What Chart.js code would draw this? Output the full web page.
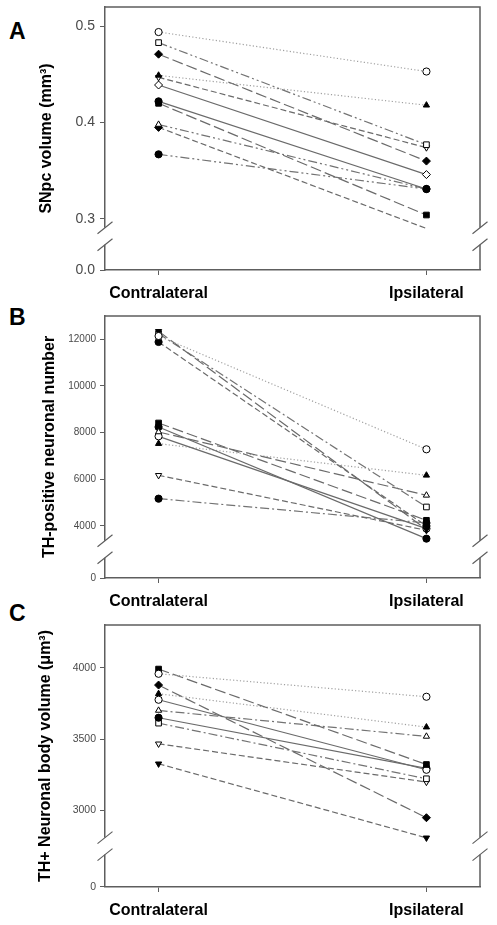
<!DOCTYPE html>
<html><head><meta charset="utf-8">
<script src="https://cdn.jsdelivr.net/npm/chart.js@4.4.0/dist/chart.umd.min.js"></script>
<style>
html,body{margin:0;padding:0;background:#fff;width:497px;height:925px;overflow:hidden;position:relative;}
canvas{position:absolute;left:0;display:block;}
.letter{position:absolute;left:9px;font:bold 23px "Liberation Sans",Arial,sans-serif;line-height:23px;color:#000;}
</style></head><body>
<div class="letter" style="top:20px">A</div>
<div class="letter" style="top:306px">B</div>
<div class="letter" style="top:602px">C</div>
<canvas id="cA" width="497" height="310" style="top:0px"></canvas>
<canvas id="cB" width="497" height="310" style="top:300px"></canvas>
<canvas id="cC" width="497" height="315" style="top:610px"></canvas>
<script>
// ---------- data ----------
const categories = ['Contralateral', 'Ipsilateral'];

// Panel A: SNpc volume (mm3)
const contraA = [0.494, 0.483, 0.471, 0.449, 0.447, 0.439, 0.422, 0.420, 0.398, 0.395, 0.367];
const ipsiA   = [0.453, 0.377, 0.360, 0.418, 0.374, 0.346, 0.331, 0.304, 0.331, 0.290, 0.331];
const ticksA = [0.3, 0.4, 0.5];
const lowTicksA = [0.0];

// Panel B: TH-positive neuronal number
const contraB = [12143, 12343, 12243, 11886, 8414, 8029, 8243, 7843, 7529, 6171, 5171];
const ipsiB   = [7286, 3850, 4814, 4000, 4243, 5314, 3457, 3886, 6171, 3814, 4129];
const ticksB = [4000, 6000, 8000, 10000, 12000];
const lowTicksB = [0];

// Panel C: TH+ neuronal body volume (um3)
const contraC = [3958, 3991, 3879, 3818, 3776, 3701, 3650, 3612, 3467, 3327];
const ipsiC   = [3797, 3322, 2949, 3584, 3285, 3519, 3295, 3222, 3199, 2808];
const ticksC = [3000, 3500, 4000];
const lowTicksC = [0];

// ---------- styles (kept apart from data) ----------
const stylesA = [
  {shape:'circle', fill:false, line:'dot'},
  {shape:'rect', fill:false, line:'dashdotdot'},
  {shape:'rectRot', fill:true, line:'long'},
  {shape:'triangle', fill:true, line:'dot'},
  {shape:'triangleDown', fill:false, line:'dash'},
  {shape:'rectRot', fill:false, line:'solid'},
  {shape:'circle', fill:true, line:'solid'},
  {shape:'rect', fill:true, line:'long'},
  {shape:'triangle', fill:false, line:'dashdotdot'},
  {shape:'rectRot', fill:true, line:'dash', hideEnd:true},
  {shape:'circle', fill:true, line:'dashdotdot'}
];
const stylesB = [
  {shape:'circle', fill:false, line:'dot'},
  {shape:'triangleDown', fill:true, line:'long'},
  {shape:'rect', fill:false, line:'dashdot'},
  {shape:'circle', fill:true, line:'dash'},
  {shape:'rect', fill:true, line:'long'},
  {shape:'triangle', fill:false, line:'long'},
  {shape:'circle', fill:true, line:'solid'},
  {shape:'circle', fill:false, line:'solid'},
  {shape:'triangle', fill:true, line:'dot'},
  {shape:'triangleDown', fill:false, line:'dash'},
  {shape:'circle', fill:true, line:'dashdot'}
];
const stylesC = [
  {shape:'circle', fill:false, line:'dot'},
  {shape:'rect', fill:true, line:'long'},
  {shape:'rectRot', fill:true, line:'long'},
  {shape:'triangle', fill:true, line:'dot'},
  {shape:'circle', fill:false, line:'solid'},
  {shape:'triangle', fill:false, line:'dashdot'},
  {shape:'circle', fill:true, line:'solid'},
  {shape:'rect', fill:false, line:'dashdot'},
  {shape:'triangleDown', fill:false, line:'dash'},
  {shape:'triangleDown', fill:true, line:'dash'}
];

const LINE = {
  dot:        {dash:[1.2, 2.2], color:'#a0a0a0'},
  dash:       {dash:[6, 3],     color:'#6a6a6a'},
  long:       {dash:[11, 4],    color:'#6a6a6a'},
  dashdot:    {dash:[9, 3, 2, 3], color:'#737373'},
  dashdotdot: {dash:[9, 3, 2, 3, 2, 3], color:'#737373'},
  solid:      {dash:[],         color:'#6a6a6a'}
};
const BORDER = '#5e5e5e';
const FONT = '"Liberation Sans", Arial, sans-serif';

function makeDatasets(contra, ipsi, styles) {
  return contra.map((c, i) => {
    const s = styles[i];
    const ls = LINE[s.line];
    const down = s.shape === 'triangleDown';
    const r = (s.shape === 'rect' || s.shape === 'rectRot') ? 4 : 3.6;
    return {
      data: [{x: 0, y: c}, {x: 1, y: ipsi[i]}],
      yAxisID: 'y',
      borderColor: ls.color,
      borderWidth: 1.2,
      borderDash: ls.dash,
      pointStyle: down ? 'triangle' : s.shape,
      rotation: down ? 180 : 0,
      pointRadius: s.hideEnd ? [r, 0] : r,
      pointBackgroundColor: s.fill ? '#000' : '#fff',
      pointBorderColor: '#000',
      pointBorderWidth: 1,
      tension: 0,
      fill: false
    };
  });
}

function decoPlugin(cfg) {
  return {
    id: 'deco',
    afterDraw(chart) {
      const ctx = chart.ctx, a = chart.chartArea;
      const yb = chart.scales.y.bottom;
      ctx.save();
      ctx.strokeStyle = BORDER;
      ctx.lineWidth = 1.5;
      ctx.beginPath();
      ctx.moveTo(a.left, a.top);
      ctx.lineTo(a.right, a.top);
      ctx.lineTo(a.right, a.bottom);
      ctx.stroke();
      const g = 8.5;
      ctx.fillStyle = '#fff';
      [a.left, a.right].forEach(x => ctx.fillRect(x - 3, yb - g, 6, 2 * g));
      ctx.beginPath();
      [a.left, a.right].forEach(x => {
        [-g, g].forEach(d => {
          ctx.moveTo(x - 7.5, yb + d + 6);
          ctx.lineTo(x + 7.5, yb + d - 6);
        });
      });
      ctx.lineWidth = 1.2;
      ctx.stroke();
      ctx.translate(cfg.titleX, (a.top + a.bottom) / 2);
      ctx.rotate(-Math.PI / 2);
      ctx.font = 'bold 16px ' + FONT;
      ctx.fillStyle = '#000';
      ctx.textAlign = 'center';
      ctx.textBaseline = 'middle';
      ctx.fillText(cfg.title, 0, 0);
      ctx.restore();
    }
  };
}

function makeChart(id, p) {
  const gridOpt = {display: true, drawOnChartArea: false, drawTicks: true, tickLength: 5, color: BORDER, lineWidth: 1};
  const borderOpt = {display: true, color: BORDER, width: 1.5};
  const noPad = s => { s.paddingTop = 0; s.paddingBottom = 0; s.paddingLeft = 0; s.paddingRight = 0; };
  return new Chart(document.getElementById(id), {
    type: 'line',
    data: {datasets: makeDatasets(p.contra, p.ipsi, p.styles)},
    options: {
      responsive: false, animation: false, devicePixelRatio: 1,
      layout: {padding: {top: p.padTop, right: 17, bottom: 0, left: 0}},
      plugins: {legend: {display: false}, tooltip: {enabled: false}},
      scales: {
        x: {
          type: 'linear', position: 'bottom', min: -0.2, max: 1.2,
          afterBuildTicks: s => { s.ticks = categories.map((c, i) => ({value: i})); },
          ticks: {callback: v => categories[v] ?? '', autoSkip: false, maxRotation: 0, padding: 9,
                  color: '#000', font: {family: FONT, size: 16, weight: 'bold'}},
          grid: gridOpt, border: borderOpt,
          afterFit: s => { s.height = p.xHeight; noPad(s); }
        },
        y0: {
          type: 'linear', position: 'left', stack: 'v', stackWeight: p.lowW, min: 0, max: 1,
          afterBuildTicks: s => { s.ticks = p.lowTicks.map(v => ({value: v})); },
          ticks: {callback: p.fmt, padding: p.tickPad, color: '#4a4a4a', font: {family: FONT, size: p.tickSize}},
          grid: gridOpt, border: borderOpt,
          afterFit: s => { s.width = 105; noPad(s); }
        },
        y: {
          type: 'linear', position: 'left', stack: 'v', stackWeight: p.upW, min: p.min, max: p.max,
          afterBuildTicks: s => { s.ticks = p.ticks.map(v => ({value: v})); },
          ticks: {callback: p.fmt, padding: p.tickPad, color: '#4a4a4a', font: {family: FONT, size: p.tickSize}},
          grid: gridOpt, border: borderOpt,
          afterFit: s => { s.width = 105; noPad(s); }
        }
      }
    },
    plugins: [decoPlugin({title: p.title, titleX: p.titleX})]
  });
}

makeChart('cA', {
  contra: contraA, ipsi: ipsiA, styles: stylesA, ticks: ticksA, lowTicks: lowTicksA,
  min: 0.282, max: 0.52, upW: 229.2, lowW: 33.8, padTop: 7, xHeight: 40,
  fmt: v => Number(v).toFixed(1), tickSize: 14, tickPad: 5,
  title: 'SNpc volume (mm³)', titleX: 47
});
makeChart('cB', {
  contra: contraB, ipsi: ipsiB, styles: stylesB, ticks: ticksB, lowTicks: lowTicksB,
  min: 3000, max: 13000, upW: 233.3, lowW: 28.7, padTop: 16, xHeight: 32,
  fmt: v => String(v), tickSize: 10, tickPad: 4,
  title: 'TH-positive neuronal number', titleX: 50
});
makeChart('cC', {
  contra: contraC, ipsi: ipsiC, styles: stylesC, ticks: ticksC, lowTicks: lowTicksC,
  min: 2750, max: 4300, upW: 221.1, lowW: 40.9, padTop: 15, xHeight: 38,
  fmt: v => String(v), tickSize: 10.5, tickPad: 4,
  title: 'TH+ Neuronal body volume (μm³)', titleX: 46
});
</script>
</body></html>
